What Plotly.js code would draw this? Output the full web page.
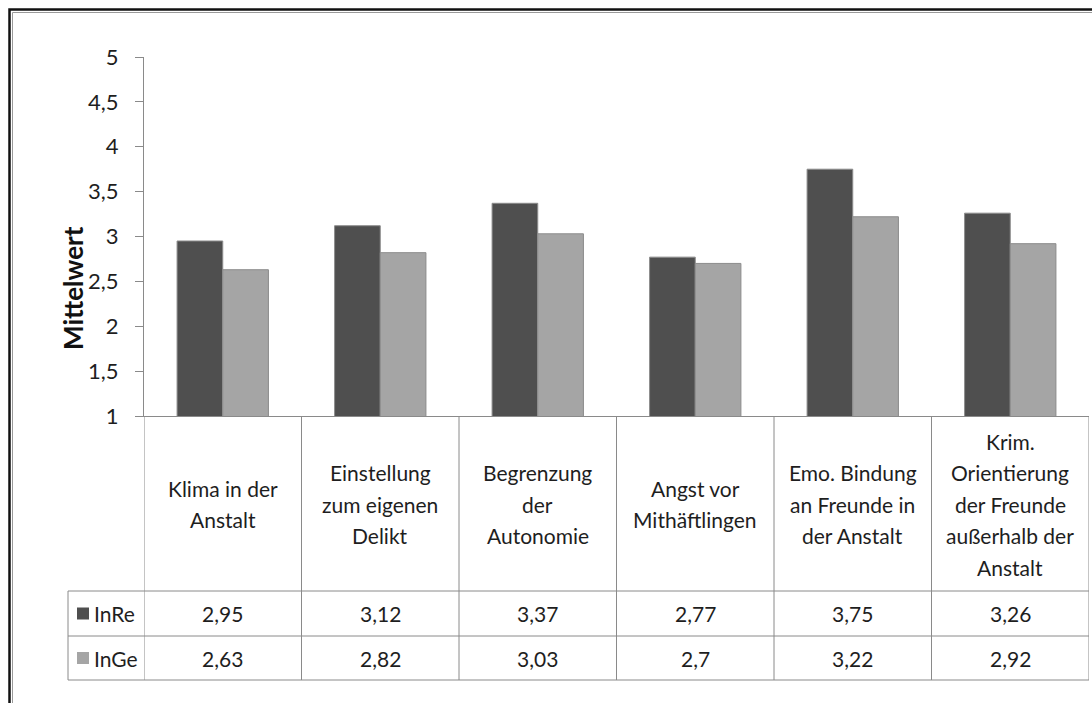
<!DOCTYPE html>
<html>
<head>
<meta charset="utf-8">
<script src="https://cdn.plot.ly/plotly-3.0.1.min.js"></script>
<style>
html,body{margin:0;padding:0;background:#fff;}
#chart{width:1092px;height:703px;}
</style>
</head>
<body>
<div id="chart"></div>
<script>
// ---- data ----
const categories = [
  "Klima in der<br>Anstalt",
  "Einstellung<br>zum eigenen<br>Delikt",
  "Begrenzung<br>der<br>Autonomie",
  "Angst vor<br>Mithäftlingen",
  "Emo. Bindung<br>an Freunde in<br>der Anstalt",
  "Krim.<br>Orientierung<br>der Freunde<br>außerhalb der<br>Anstalt"
];
const seriesNames = ["InRe", "InGe"];
const inRe = [2.95, 3.12, 3.37, 2.77, 3.75, 3.26];
const inGe = [2.63, 2.82, 3.03, 2.7, 3.22, 2.92];
const seriesColors = ["#4f4f4f", "#a5a5a5"];
const yTickVals = [1, 1.5, 2, 2.5, 3, 3.5, 4, 4.5, 5];

// ---- geometry helpers (pixel -> paper) ----
const W = 1092, H = 703;
const L = 144, R = 1089, T = 57, B = 416;
const pw = R - L, ph = B - T;
const px = x => (x - L) / pw;
const py = y => (B - y) / ph;

const FONT = "Lato, 'Open Sans', sans-serif";
const TXT = "#1e1e1e";
const LINE = "#8a8a8a";
const FS = 21;

const traces = [inRe, inGe].map((vals, i) => ({
  type: "bar",
  name: seriesNames[i],
  x: categories,
  y: vals,
  marker: {color: seriesColors[i], line: {color: "#8c8c8c", width: 1}},
  hoverinfo: "skip"
}));

const shapes = [];
const annotations = [];

// outer frame (double line)
shapes.push({type: "rect", xref: "paper", yref: "paper",
  x0: px(9.5), x1: px(1200), y0: py(9.5), y1: py(800),
  line: {color: "#111", width: 2.5}});
shapes.push({type: "rect", xref: "paper", yref: "paper",
  x0: px(12.5), x1: px(1200), y0: py(12.5), y1: py(800),
  line: {color: "#9a9a9a", width: 1}});

// table geometry
const rowTop = py(591), rowMid = py(636), rowBot = py(680);
const tableLeft = px(68);

// vertical category separators
for (let i = 0; i <= categories.length; i++) {
  shapes.push({type: "line", xref: "x", yref: "paper",
    x0: i - 0.5, x1: i - 0.5, y0: 0, y1: rowBot,
    line: {color: LINE, width: 1}});
}
// horizontal row lines
[rowTop, rowMid, rowBot].forEach(yv => {
  shapes.push({type: "line", xref: "paper", yref: "paper",
    x0: tableLeft, x1: 1, y0: yv, y1: yv,
    line: {color: LINE, width: 1}});
});
// left edge of legend column
shapes.push({type: "line", xref: "paper", yref: "paper",
  x0: tableLeft, x1: tableLeft, y0: rowTop, y1: rowBot,
  line: {color: LINE, width: 1}});

// category labels (one annotation per line for Excel-like line spacing)
const LH = 31.5, headerCenter = 504;
categories.forEach((c, i) => {
  const lines = c.split("<br>");
  lines.forEach((ln, k) => {
    const yc = headerCenter + (k - (lines.length - 1) / 2) * LH;
    annotations.push({xref: "x", yref: "paper", x: c, y: py(yc),
      text: ln, showarrow: false, xanchor: "center", yanchor: "middle",
      font: {family: FONT, size: FS, color: TXT}});
  });
});

// value rows
const rows = [inRe, inGe];
const rowCy = [613.5, 658];
rows.forEach((vals, r) => {
  vals.forEach((v, i) => {
    annotations.push({xref: "x", yref: "paper", x: categories[i], y: py(rowCy[r]),
      text: String(v).replace(".", ","), showarrow: false,
      xanchor: "center", yanchor: "middle",
      font: {family: FONT, size: FS, color: TXT}});
  });
  // series name + key
  annotations.push({xref: "paper", yref: "paper", x: px(92), y: py(rowCy[r]),
    text: seriesNames[r], showarrow: false, xanchor: "left", yanchor: "middle",
    font: {family: FONT, size: FS, color: TXT}});
  const cy = rowCy[r];
  shapes.push({type: "rect", xref: "paper", yref: "paper",
    x0: px(77), x1: px(89), y0: py(cy - 6), y1: py(cy + 6),
    fillcolor: seriesColors[r], line: {width: 0}});
});

// y-axis title
annotations.push({xref: "paper", yref: "paper", x: px(73), y: py(288),
  text: "<b>Mittelwert</b>", showarrow: false, textangle: -90,
  xanchor: "center", yanchor: "middle",
  font: {family: FONT, size: 26, color: "#111"}});

const layout = {
  width: W, height: H,
  margin: {l: L, r: W - R, t: T, b: H - B, pad: 0},
  paper_bgcolor: "#fff", plot_bgcolor: "#fff",
  separators: ",.",
  showlegend: false,
  barmode: "group",
  bargap: 0.42, bargroupgap: 0,
  xaxis: {
    type: "category", showticklabels: false, ticks: "",
    showline: true, linecolor: LINE, linewidth: 1,
    showgrid: false, zeroline: false, fixedrange: true,
    range: [-0.5, categories.length - 0.5]
  },
  yaxis: {
    range: [1, 5], tickvals: yTickVals,
    ticks: "outside", ticklen: 8, tickcolor: LINE, tickwidth: 1,
    showline: true, linecolor: LINE, linewidth: 1,
    showgrid: false, zeroline: false, fixedrange: true,
    ticklabelstandoff: 12,
    tickfont: {family: FONT, size: 22, color: TXT}
  },
  shapes: shapes,
  annotations: annotations,
  font: {family: FONT}
};

Plotly.newPlot("chart", traces, layout, {displayModeBar: false, staticPlot: true});
</script>
</body>
</html>
